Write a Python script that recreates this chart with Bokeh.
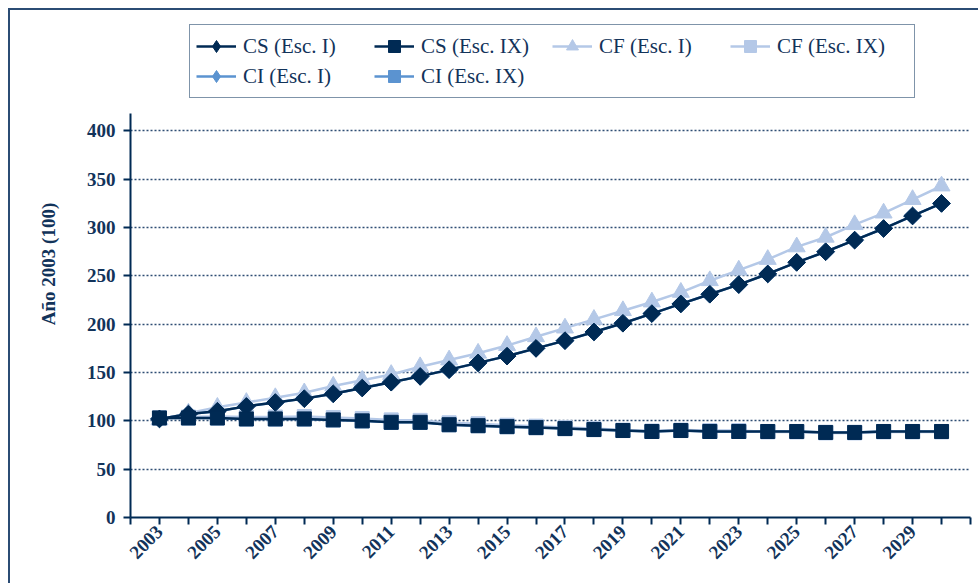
import math
from bokeh.plotting import figure
from bokeh.models import Range1d, FixedTicker, Legend, LegendItem
from bokeh.embed import file_html
from bokeh.resources import INLINE

years = list(range(2003, 2031))
cs_esc1 = [102, 107, 110, 115, 119, 123, 128, 134, 140, 146, 153, 160, 167, 175,
           183, 192, 201, 211, 221, 231, 241, 252, 264, 275, 287, 299, 312, 325]
cs_esc9 = [103, 103, 103, 102, 102, 102, 101, 100, 98.5, 98.5, 96, 95, 94, 93,
           92, 91, 90, 89, 90, 89, 89, 89, 89, 88, 88, 89, 89, 89]
cf_esc1 = [101, 108, 114, 119, 124, 129, 136, 142, 148, 156, 163, 170, 178, 187,
           196, 205, 214, 223, 233, 245, 256, 267, 280, 290, 303, 315, 329, 343]
cf_esc9 = [103, 104, 104.5, 104, 104, 104.5, 103.5, 102.5, 101, 100.5, 98, 97, 95.5, 94.5,
           93, 92, 90.5, 89.5, 90.5, 90, 90, 88.5, 88.5, 87.5, 87.5, 88.5, 88.5, 88.5]
ci_esc1 = [102, 107, 110, 115, 119, 123, 128, 134, 140, 146, 153, 160, 167, 175,
           183, 192, 201, 211, 221, 231, 241, 252, 264, 275, 287, 299, 312, 325]
ci_esc9 = [103, 103, 103, 102, 102, 102, 101, 100, 98.5, 98.5, 96, 95, 94, 93,
           92, 91, 90, 89, 90, 89, 89, 89, 89, 88, 88, 89, 89, 89]

labeled_years = list(range(2003, 2031, 2))
unlabeled_years = [2002] + list(range(2004, 2031, 2)) + [2031]
y_ticks = [0, 50, 100, 150, 200, 250, 300, 350, 400]

NAVY = "#002A54"
LIGHT = "#B4C8E7"
MID = "#5B93D0"
TEXT = "#12335A"
FONT = "Liberation Serif"

p = figure(width=970, height=575, output_backend="svg", toolbar_location=None,
           x_range=Range1d(2002, 2031), y_range=Range1d(0, 524.6))
p.styles = {"margin-left": "8px", "margin-top": "8px",
            "border-left": "2px solid #2B4C74", "border-top": "2px solid #2B4C74"}
p.min_border_left = 120
p.min_border_top = 0
p.min_border_right = 10
p.min_border_bottom = 68
p.outline_line_color = None
p.background_fill_color = "white"
p.border_fill_color = "white"

# axes
for ax in (p.xaxis, p.yaxis):
    ax.axis_line_color = NAVY
    ax.axis_line_width = 2
    ax.major_tick_line_color = NAVY
    ax.major_tick_line_width = 2
    ax.major_tick_out = 7
    ax.major_tick_in = 0
    ax.major_label_text_font = FONT
    ax.major_label_text_font_style = "bold"
    ax.major_label_text_font_size = "19px"
    ax.major_label_text_color = TEXT

p.xaxis.ticker = FixedTicker(ticks=labeled_years, minor_ticks=unlabeled_years)
p.xaxis.minor_tick_line_color = NAVY
p.xaxis.minor_tick_line_width = 2
p.xaxis.minor_tick_out = 7
p.xaxis.minor_tick_in = 0
p.xaxis.major_label_orientation = math.pi / 4
p.xaxis.major_label_standoff = 4

p.yaxis.ticker = FixedTicker(ticks=y_ticks)
p.yaxis.bounds = (0, 418)
p.yaxis.minor_tick_line_color = None
p.yaxis.major_label_standoff = 8
p.yaxis.axis_label = "Año 2003 (100)"
p.yaxis.axis_label_text_font = FONT
p.yaxis.axis_label_text_font_style = "bold"
p.yaxis.axis_label_text_font_size = "19px"
p.yaxis.axis_label_text_color = TEXT
p.yaxis.axis_label_standoff = 25

p.xgrid.grid_line_color = None
p.ygrid.grid_line_color = "#2E4D73"
p.ygrid.grid_line_width = 1.6
p.ygrid.grid_line_dash = "2 2"

# series (CI first, CF, then CS on top)
l_ci1 = p.line(years, ci_esc1, line_color=MID, line_width=2.5)
d_ci1 = p.scatter(years, ci_esc1, marker="diamond", size=15, fill_color=MID, line_color=MID)
p.scatter(years, ci_esc1, marker="square", angle=math.pi / 4, size=12.5,
          fill_color=MID, line_color=MID)
l_ci9 = p.line(years, ci_esc9, line_color=MID, line_width=2.5)
m_ci9 = p.scatter(years, ci_esc9, marker="square", size=14, fill_color=MID, line_color=MID)

l_cf1 = p.line(years, cf_esc1, line_color=LIGHT, line_width=2.5)
m_cf1 = p.scatter(years, cf_esc1, marker="triangle", size=17, fill_color=LIGHT, line_color=LIGHT)
l_cf9 = p.line(years, cf_esc9, line_color=LIGHT, line_width=2.5)
m_cf9 = p.scatter(years, cf_esc9, marker="square", size=14, fill_color=LIGHT, line_color=LIGHT)

l_cs1 = p.line(years, cs_esc1, line_color=NAVY, line_width=2.5)
d_cs1 = p.scatter(years, cs_esc1, marker="diamond", size=15, fill_color=NAVY, line_color=NAVY)
p.scatter(years, cs_esc1, marker="square", angle=math.pi / 4, size=12.5,
          fill_color=NAVY, line_color=NAVY)
l_cs9 = p.line(years, cs_esc9, line_color=NAVY, line_width=2.5)
m_cs9 = p.scatter(years, cs_esc9, marker="square", size=14, fill_color=NAVY, line_color=NAVY)

legend = Legend(items=[
    LegendItem(label="CS (Esc. I)", renderers=[l_cs1, d_cs1]),
    LegendItem(label="CS (Esc. IX)", renderers=[l_cs9, m_cs9]),
    LegendItem(label="CF (Esc. I)", renderers=[l_cf1, m_cf1]),
    LegendItem(label="CF (Esc. IX)", renderers=[l_cf9, m_cf9]),
    LegendItem(label="CI (Esc. I)", renderers=[l_ci1, d_ci1]),
    LegendItem(label="CI (Esc. IX)", renderers=[l_ci9, m_ci9]),
], location=(59, 419), orientation="horizontal", ncols=4)
legend.label_text_font = FONT
legend.label_text_font_size = "21px"
legend.label_text_color = TEXT
legend.glyph_width = 40
legend.glyph_height = 30
legend.label_height = 24
legend.label_width = 131
legend.label_standoff = 7
legend.spacing = 0
legend.padding = 6
legend.margin = 0
legend.border_line_color = NAVY
legend.border_line_width = 1.5
legend.background_fill_color = "white"
legend.background_fill_alpha = 1
p.add_layout(legend, "center")

open("out.html", "w").write(file_html(p, INLINE))
